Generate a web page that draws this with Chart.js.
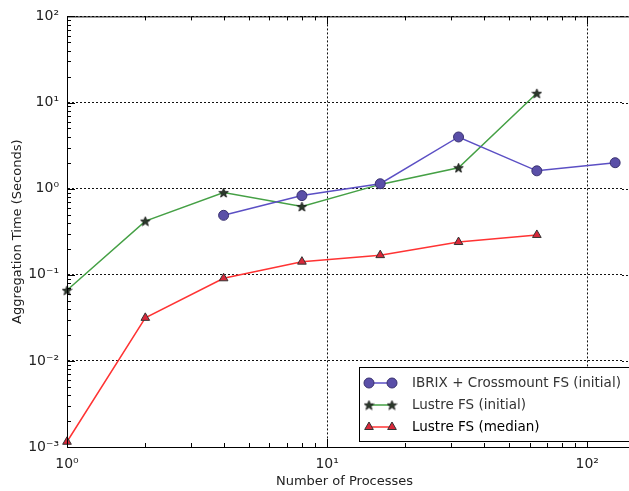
<!DOCTYPE html>
<html>
<head>
<meta charset="utf-8">
<script src="https://cdn.jsdelivr.net/npm/chart.js@4"></script>
<style>
  html, body { margin: 0; padding: 0; background: #fff; }
  #chart { display: block; }
</style>
</head>
<body>
<canvas id="chart" width="629" height="491"></canvas>
<script>
// Aggregation time vs. number of processes
const ibrixProcs = [4, 8, 16, 32, 64, 128];
const ibrixInitial = [0.49, 0.83, 1.14, 3.98, 1.61, 2.0];

const lustreProcs = [1, 2, 4, 8, 16, 32, 64];
const lustreInitial = [0.066, 0.42, 0.90, 0.62, 1.12, 1.75, 12.8];
const lustreMedian = [0.00115, 0.0316, 0.091, 0.142, 0.169, 0.24, 0.29];

const seriesNames = ['IBRIX + Crossmount FS (initial)', 'Lustre FS (initial)', 'Lustre FS (median)'];

const xDecades = [1, 10, 100];
const yDecades = [0.001, 0.01, 0.1, 1, 10, 100];

const FONT = 'DejaVu Sans';
const SUP = { '-': '\u207B', '0': '\u2070', '1': '\u00B9', '2': '\u00B2', '3': '\u00B3' };

function decadeLabel(v) {
    const e = String(Math.round(Math.log10(v)));
    return '10' + e.split('').map(c => SUP[c]).join('');
}

function zip(xs, ys) {
    return xs.map((x, i) => ({ x: x, y: ys[i] }));
}

// filled five-point star used as a point style
function makeStar(size) {
    const c = document.createElement('canvas');
    c.width = size;
    c.height = size;
    const g = c.getContext('2d');
    const cx = size / 2, cy = size / 2 + 0.5;
    const ro = size / 2 - 0.5, ri = ro * 0.42;
    g.beginPath();
    for (let i = 0; i < 10; i++) {
        const r = i % 2 ? ri : ro;
        const a = -Math.PI / 2 + i * Math.PI / 5;
        g.lineTo(cx + r * Math.cos(a), cy + r * Math.sin(a));
    }
    g.closePath();
    g.fillStyle = '#2c3a2c';
    g.fill();
    g.lineWidth = 0.8;
    g.strokeStyle = '#111';
    g.stroke();
    return c;
}
const starImg = makeStar(11);

// axes frame, inward major/minor ticks and the legend box
const framePlugin = {
    id: 'frame',
    beforeDatasetsDraw(chart) {
        // carry the horizontal grid on to the canvas edge
        const { ctx, chartArea: a, scales: { y } } = chart;
        ctx.save();
        ctx.strokeStyle = '#111';
        ctx.lineWidth = 1;
        ctx.setLineDash([2, 2]);
        ctx.beginPath();
        yDecades.forEach(v => {
            const py = Math.round(y.getPixelForValue(v)) + 0.5;
            ctx.moveTo(a.right, py);
            ctx.lineTo(chart.width, py);
        });
        ctx.stroke();
        ctx.restore();
    },
    afterDraw(chart) {
        const { ctx, chartArea: a, scales: { x, y } } = chart;
        ctx.save();
        ctx.strokeStyle = '#000';
        ctx.lineWidth = 1;
        ctx.beginPath();
        ctx.moveTo(chart.width, a.top + 0.5);
        ctx.lineTo(a.left + 0.5, a.top + 0.5);
        ctx.lineTo(a.left + 0.5, a.bottom + 0.5);
        ctx.lineTo(chart.width, a.bottom + 0.5);
        ctx.stroke();

        ctx.beginPath();
        for (let d = 1; d <= 100; d *= 10) {
            for (let m = 1; m < 10; m++) {
                const v = d * m;
                if (v > x.max) break;
                const px = Math.round(x.getPixelForValue(v)) + 0.5;
                const len = m === 1 ? 8 : 4;
                ctx.moveTo(px, a.bottom); ctx.lineTo(px, a.bottom - len);
                ctx.moveTo(px, a.top); ctx.lineTo(px, a.top + len);
            }
        }
        for (let d = 0.001; d < 200; d *= 10) {
            for (let m = 1; m < 10; m++) {
                const v = d * m;
                if (v > y.max * 1.0001) break;
                const py = Math.round(y.getPixelForValue(v)) + 0.5;
                const len = m === 1 ? 8 : 4;
                ctx.moveTo(a.left, py); ctx.lineTo(a.left + len, py);
            }
        }
        ctx.stroke();

        // legend
        const box = { left: 359.5, top: 367.5, right: 640, bottom: 441.5 };
        ctx.fillStyle = '#fff';
        ctx.fillRect(box.left, box.top, box.right - box.left, box.bottom - box.top);
        ctx.strokeStyle = '#000';
        ctx.strokeRect(box.left, box.top, box.right - box.left, box.bottom - box.top);

        const rows = [383, 405, 427];
        const textColors = ['#333', '#333', '#000'];
        chart.data.datasets.forEach((ds, i) => {
            const yy = rows[i];
            ctx.strokeStyle = ds.borderColor;
            ctx.lineWidth = 1.5;
            ctx.beginPath();
            ctx.moveTo(369, yy);
            ctx.lineTo(392, yy);
            ctx.stroke();
            [369, 392].forEach(px => {
                ctx.fillStyle = ds.pointBackgroundColor;
                ctx.strokeStyle = ds.pointBorderColor;
                ctx.lineWidth = ds.pointBorderWidth;
                Chart.helpers.drawPoint(ctx, {
                    pointStyle: ds.pointStyle, radius: ds.pointRadius,
                    rotation: 0, borderWidth: ds.pointBorderWidth
                }, px, yy);
            });
            ctx.fillStyle = textColors[i];
            ctx.font = '13.5px "' + FONT + '"';
            ctx.textBaseline = 'middle';
            ctx.textAlign = 'left';
            ctx.fillText(ds.label, 412, yy);
        });
        ctx.restore();
    }
};

const tickFont = { family: FONT, size: 14 };
const titleFont = { family: FONT, size: 13 };

new Chart(document.getElementById('chart'), {
    type: 'line',
    data: {
        datasets: [{
            label: seriesNames[0],
            data: zip(ibrixProcs, ibrixInitial),
            borderColor: '#5b4fc4',
            borderWidth: 1.5,
            pointStyle: 'circle',
            pointRadius: 5,
            pointBackgroundColor: '#5a4fa8',
            pointBorderColor: '#3a3270',
            pointBorderWidth: 1,
            clip: false
        }, {
            label: seriesNames[1],
            data: zip(lustreProcs, lustreInitial),
            borderColor: '#45a045',
            borderWidth: 1.5,
            pointStyle: starImg,
            pointRadius: 6,
            pointBackgroundColor: '#2c3a2c',
            pointBorderColor: '#111',
            pointBorderWidth: 1,
            clip: false
        }, {
            label: seriesNames[2],
            data: zip(lustreProcs, lustreMedian),
            borderColor: '#ff3333',
            borderWidth: 1.5,
            pointStyle: 'triangle',
            pointRadius: 5,
            pointBackgroundColor: '#d8283a',
            pointBorderColor: '#333',
            pointBorderWidth: 1,
            clip: false
        }]
    },
    options: {
        responsive: false,
        animation: false,
        layout: { padding: { top: 14, right: 0, bottom: 0, left: 0 } },
        plugins: {
            legend: { display: false },
            tooltip: { enabled: false }
        },
        scales: {
            x: {
                type: 'logarithmic',
                min: 1,
                max: 136,
                afterBuildTicks: s => { s.ticks = xDecades.map(v => ({ value: v })); },
                afterFit: s => { s.height = 44; s.paddingRight = 0; s.paddingLeft = 0; },
                grid: { color: '#111', lineWidth: 1, drawTicks: false },
                border: { display: true, color: '#000', width: 1, dash: [2, 2] },
                ticks: {
                    font: tickFont, color: '#222', padding: 9,
                    maxRotation: 0, autoSkip: false,
                    callback: v => decadeLabel(v)
                },
                title: {
                    display: true, text: 'Number of Processes',
                    font: titleFont, color: '#222',
                    padding: { top: 0, bottom: 2 }
                }
            },
            y: {
                type: 'logarithmic',
                min: 0.001,
                max: 100,
                afterBuildTicks: s => { s.ticks = yDecades.map(v => ({ value: v })); },
                afterFit: s => { s.width = 67; },
                grid: { color: '#111', lineWidth: 1, drawTicks: false },
                border: { display: true, color: '#000', width: 1, dash: [2, 2] },
                ticks: {
                    font: tickFont, color: '#222', padding: 8,
                    autoSkip: false,
                    callback: v => decadeLabel(v)
                },
                title: {
                    display: true, text: 'Aggregation Time (Seconds)',
                    font: titleFont, color: '#222',
                    padding: { top: 10, bottom: 0 }
                }
            }
        }
    },
    plugins: [framePlugin]
});
</script>
</body>
</html>
